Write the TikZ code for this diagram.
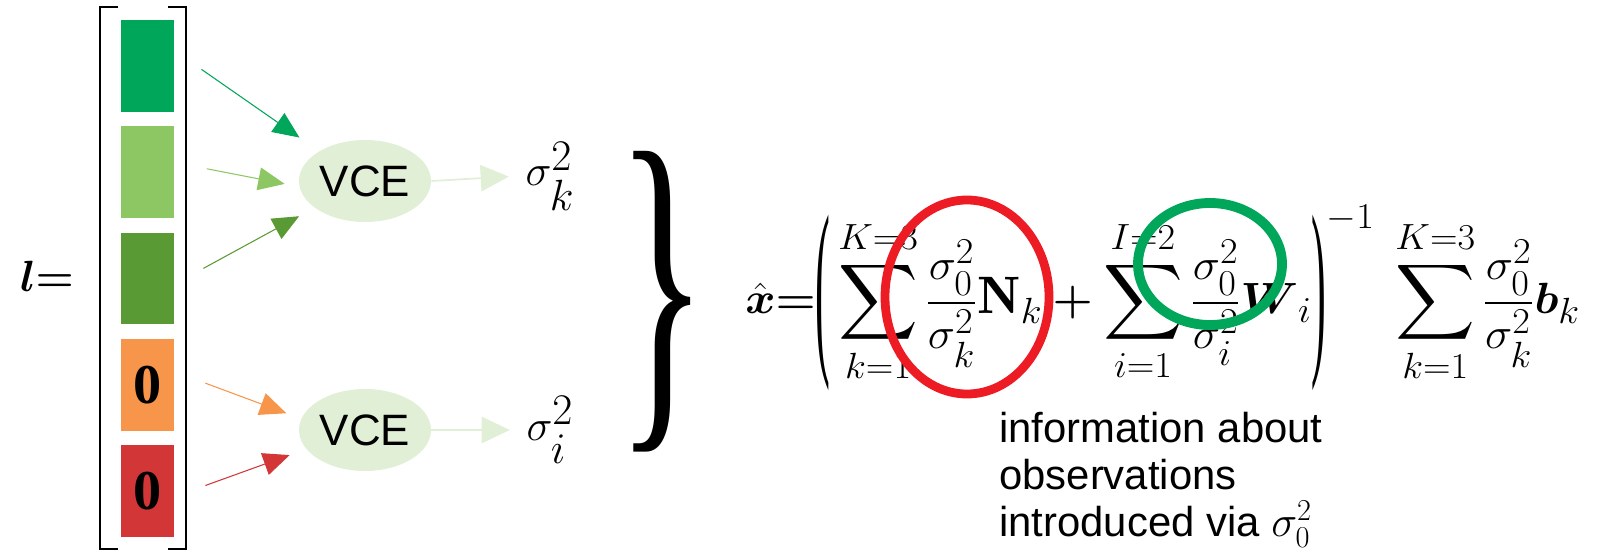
\documentclass[tikz,border=0pt]{standalone}
\usepackage{amsmath,amssymb}
\usepackage{fontspec}
\usepackage{xcolor}
\usepackage{tikz}
\usetikzlibrary{arrows.meta,calc,positioning,shapes.geometric}
\newfontfamily\sansf{Liberation Sans}
\newfontfamily\seriff{Liberation Serif}
\definecolor{obsA}{RGB}{0,166,90}
\definecolor{obsB}{RGB}{140,199,99}
\definecolor{obsC}{RGB}{90,154,52}
\definecolor{obsD}{RGB}{247,150,74}
\definecolor{obsE}{RGB}{210,54,54}
\definecolor{vcefill}{RGB}{225,239,215}
\definecolor{ringred}{RGB}{237,28,36}
\definecolor{ringgreen}{RGB}{0,166,90}
\newcommand{\tallparen}[1]{\vcenter{\hbox{\resizebox*{8pt}{100pt}{\seriff#1}}}}
\tikzset{
  obsbox/.style={rectangle,minimum width=1.06cm,minimum height=1.84cm,inner sep=0pt,font=\fontsize{32}{32}\seriff\bfseries},
  vce/.style={ellipse,fill=vcefill,minimum width=2.64cm,minimum height=1.64cm,inner sep=0pt,font=\fontsize{25}{25}\sansf},
  feed/.style={-{Triangle[length=15pt,width=13pt]},line width=0.6pt,shorten <=18.8pt},
  outarr/.style={-{Triangle[length=16pt,width=15pt]},vcefill,line width=1pt},
}
\begin{document}
\begin{tikzpicture}[x=0.02cm,y=-0.02cm]
  \useasboundingbox (0,0) rectangle (1604,553);
  % vector l
  \node[font=\fontsize{31}{31}\selectfont] (lvec) at (47,276) {$\boldsymbol{l}{\boldsymbol{=}}$};
  \draw[line width=0.6pt] (118,7) -- (100,7) -- (100,549) -- (118,549);
  \draw[line width=0.6pt] (168,7) -- (186,7) -- (186,549) -- (168,549);
  \foreach \i/\c/\z in {1/obsA/,2/obsB/,3/obsC/,4/obsD/0,5/obsE/0}
    \node[obsbox,fill=\c] (b\i) at (147.5,{66+106.25*(\i-1)}) {\z};
  % variance component estimation
  \node[vce] (v1) at (365,181) {VCE};
  \node[vce] (v2) at (365,430) {VCE};
  \draw[feed,obsA,shorten >=13.6pt] (b1.30) -- (v1.147);
  \draw[feed,obsB,shorten >=8.5pt] (b2.20) -- (v1.185);
  \draw[feed,obsC,shorten >=10pt] (b3.-12) -- (v1.208);
  \draw[feed,obsD,shorten >=9pt] (b4.26) -- (v2.170);
  \draw[feed,obsE,shorten >=10pt] (b5.-12) -- (v2.198);
  \node[font=\fontsize{34}{34}\selectfont] (sk) at (550,176) {$\sigma_k^2$};
  \node[font=\fontsize{34}{34}\selectfont] (si) at (550,430) {$\sigma_i^2$};
  \draw[outarr,shorten >=6pt] (v1.east) -- (sk.west);
  \draw[outarr,shorten >=6pt] (v2.east) -- (si.west);
  \node[inner sep=0pt] (brace) at (662,302) {\resizebox*{52pt}{171pt}{\seriff\}}};
  % estimate
  \node[anchor=west,inner sep=0pt,font=\fontsize{30}{30}\selectfont] (xhat) at (745,298) {\scalebox{1.05}[1]{$\displaystyle
    \hat{\boldsymbol{x}}{\boldsymbol{=}}\mathopen{\tallparen(}\,\sum_{k=1}^{K=3}\frac{\sigma_0^2}{\sigma_k^2}\mathbf{N}_k
    \boldsymbol{+}\sum_{i=1}^{I=2}\frac{\sigma_0^2}{\sigma_i^2}\boldsymbol{W}_i\mathclose{\tallparen)}^{-1}\;
    \sum_{k=1}^{K=3}\frac{\sigma_0^2}{\sigma_k^2}\boldsymbol{b}_k$}};
  \draw[ringred,line width=5pt] (967,297) ellipse [x radius=82,y radius=97];
  \draw[ringgreen,line width=5.6pt] (1210,264) ellipse [x radius=72,y radius=61];
  \node[anchor=north west,inner sep=0pt,align=left,font=\fontsize{23.8}{26.7}\sansf] (info) at (999,412)
    {information about\\observations\\introduced via $\sigma_0^2$};
\end{tikzpicture}
\end{document}
